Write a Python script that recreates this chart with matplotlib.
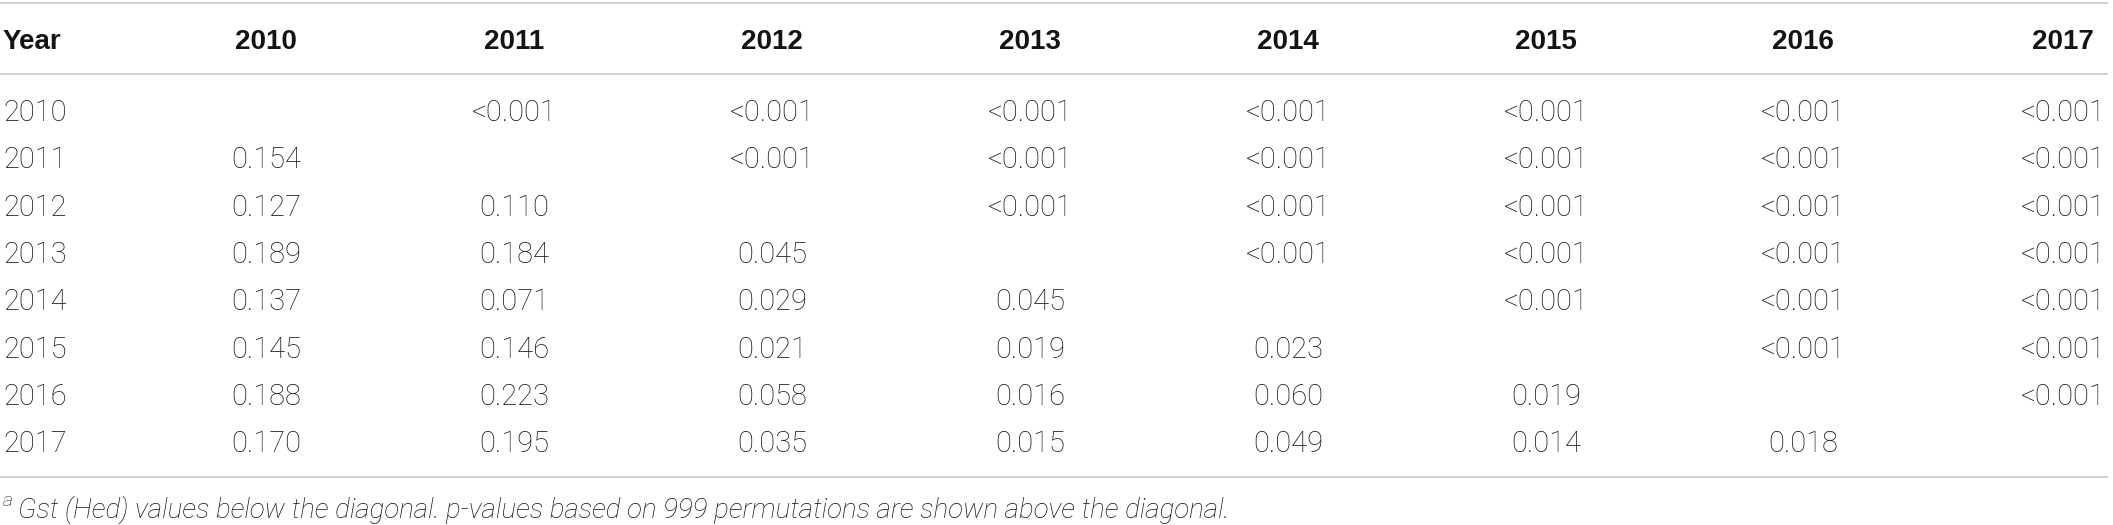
import matplotlib.pyplot as plt

# table contents
years = ["2010", "2011", "2012", "2013", "2014", "2015", "2016", "2017"]
header_first = "Year"

# Gst (Hed) values below the diagonal, row by row
gst_rows = [
    [],
    ["0.154"],
    ["0.127", "0.110"],
    ["0.189", "0.184", "0.045"],
    ["0.137", "0.071", "0.029", "0.045"],
    ["0.145", "0.146", "0.021", "0.019", "0.023"],
    ["0.188", "0.223", "0.058", "0.016", "0.060", "0.019"],
    ["0.170", "0.195", "0.035", "0.015", "0.049", "0.014", "0.018"],
]
# p-values above the diagonal (all the same in this table)
p_value = "<0.001"

footnote_mark = "a"
footnote = ("Gst (Hed) values below the diagonal. p-values based on 999 "
            "permutations are shown above the diagonal.")

# layout in pixels
W, H = 2113, 525
col_x = [266, 514, 772, 1030, 1288, 1546, 1803, 2063]
header_base = 49
row_base0 = 121
row_step = 47.3
line_y = [3, 74, 477]

BODY = "#141414"
HEAD = "#141414"
RULE = "#c4c4c4"
body_font = dict(family="Roboto", weight="light", size=21, color=BODY)
head_font = dict(family="Liberation Sans", weight="bold", size=20, color=HEAD)

fig = plt.figure(figsize=(W / 100, H / 100), dpi=100)
ax = fig.add_axes([0, 0, 1, 1])
ax.set_xlim(0, W)
ax.set_ylim(H, 0)
ax.axis("off")

for y in line_y:
    ax.plot([0, W - 5], [y, y], color=RULE, lw=1.1, solid_capstyle="butt")

# header
ax.text(3, header_base, header_first, ha="left", va="baseline", **head_font)
for x, yr in zip(col_x, years):
    ax.text(x, header_base, yr, ha="center", va="baseline", **head_font)

# rows
for i, yr in enumerate(years):
    yb = row_base0 + i * row_step
    ax.text(3, yb, yr, ha="left", va="baseline", **body_font)
    for j in range(len(years)):
        if j < i:
            val = gst_rows[i][j]
        elif j > i:
            val = p_value
        else:
            continue
        ax.text(col_x[j], yb, val, ha="center", va="baseline", **body_font)

# footnote
ax.text(3, 506, footnote_mark, ha="left", va="baseline", family="Roboto",
        weight="light", style="italic", size=14, color=BODY)
ax.text(18, 518, footnote, ha="left", va="baseline", family="Roboto",
        weight="light", style="italic", size=20, color=BODY)

fig.savefig("out.png", dpi=100, facecolor="white")
